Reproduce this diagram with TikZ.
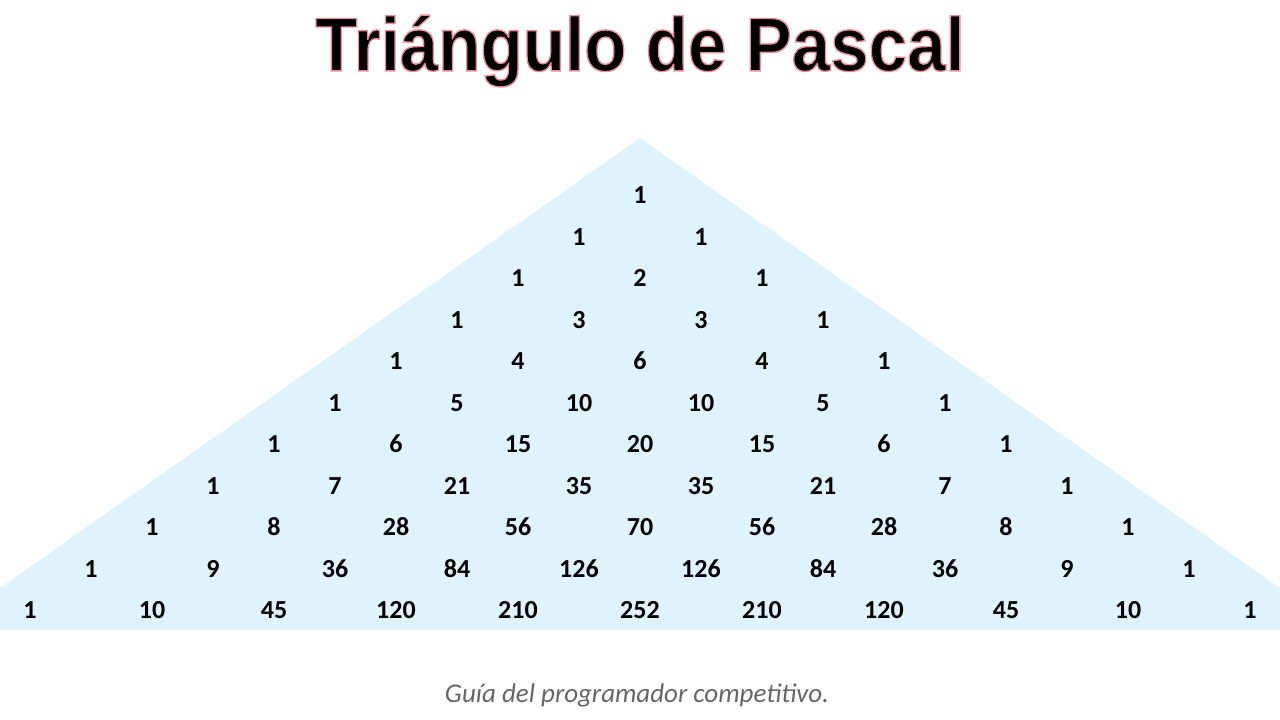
\documentclass[tikz,border=0pt]{standalone}
\usepackage{fontspec}
\setmainfont{Carlito}[Numbers=Lining]
\newfontfamily\titlefont{Liberation Sans}
\usetikzlibrary{calc}
\definecolor{triblue}{RGB}{222,243,252}
\newcommand{\glowtext}[1]{\special{pdf:literal 2 Tr 1.4 w 0.93 0.55 0.6 RG}#1\special{pdf:literal 0 Tr 0 G}}

\begin{document}
\begin{tikzpicture}[x=1pt,y=-1pt,
    num/.style={font=\fontsize{26}{26}\selectfont\bfseries, inner sep=0pt,
      text height=17pt, text depth=0pt}]
  \useasboundingbox (0,0) rectangle (1280,720);

  % fondo del triangulo
  \fill[triblue] (640,138) -- (1280,588) -- (1280,630) -- (0,630) -- (0,588) -- cycle;

  % titulo
  \node[xscale=0.91, inner sep=0pt] (title) at (640,51)
    {\titlefont\fontsize{76}{76}\selectfont\bfseries\glowtext{Triángulo de Pascal}};

  % filas del triangulo
  \foreach \row [count=\n from 0] in {{1},{1,1},{1,2,1},{1,3,3,1},{1,4,6,4,1},
      {1,5,10,10,5,1},{1,6,15,20,15,6,1},{1,7,21,35,35,21,7,1},
      {1,8,28,56,70,56,28,8,1},{1,9,36,84,126,126,84,36,9,1},
      {1,10,45,120,210,252,210,120,45,10,1}}
    \foreach \v [count=\k from 0] in \row
      \node[num] (p-\n-\k) at ({640+(2*\k-\n)*61},{195+\n*41.5}) {\v};

  % pie
  \node[text=black!60, font=\fontsize{27}{27}\selectfont\itshape] (foot) at (637,695)
    {Guía del programador competitivo.};
\end{tikzpicture}
\end{document}
